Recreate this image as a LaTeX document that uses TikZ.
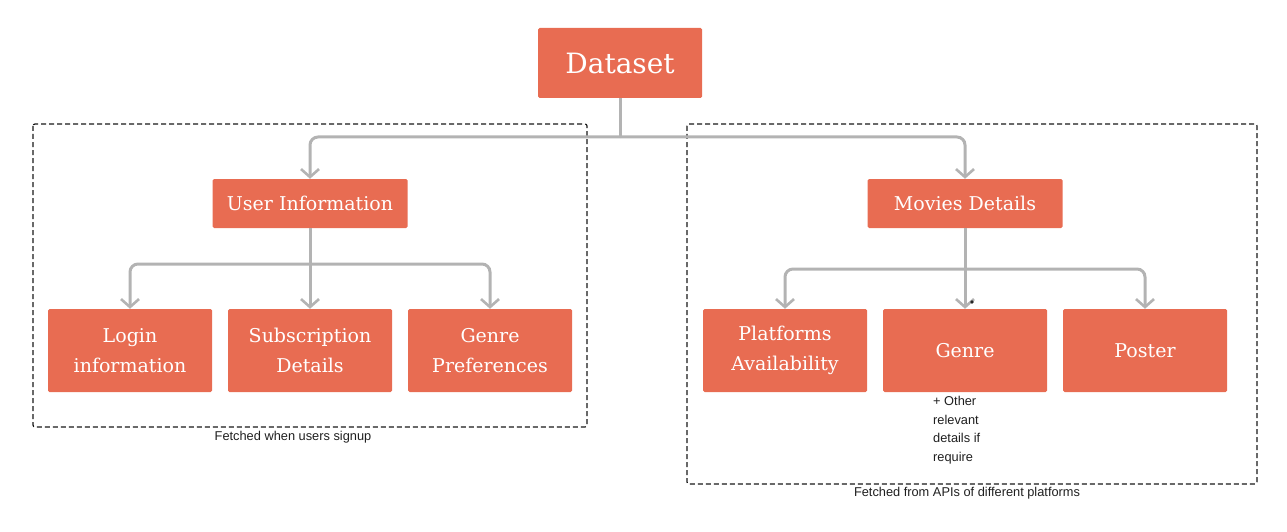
\documentclass[tikz,border=0pt]{standalone}
\usepackage{fontspec}
\setmainfont{DejaVu Serif}
\newfontfamily\lblfont{Liberation Sans}
\usetikzlibrary{arrows.meta}
\definecolor{boxred}{HTML}{E86C52}
\definecolor{conngray}{HTML}{B3B3B3}
\tikzset{
  redbox/.style={draw=none, fill=boxred, rounded corners=1.5pt, text=white, align=center, inner sep=0pt, font=\fontsize{19}{30}\selectfont},
  conn/.style={draw=conngray, line width=3pt, rounded corners=8pt, -{Straight Barb[length=8pt,width=18pt,line width=2.6pt]}},
  connplain/.style={draw=conngray, line width=3pt, rounded corners=8pt},
  group/.style={draw=black!90, line width=1.2pt, dash pattern=on 5pt off 3pt, rounded corners=2pt},
  lbl/.style={font=\lblfont\fontsize{12.8}{15}\selectfont, text=black!88, inner sep=0pt}
}
\begin{document}
\begin{tikzpicture}[x=1pt,y=-1pt]
\useasboundingbox (0,0) rectangle (1287,532);
% groups
\draw[group] (33,124) rectangle (587,427);
\draw[group] (687,124) rectangle (1257,484);
% nodes
\node[redbox, minimum width=164pt, minimum height=70pt, font=\fontsize{28}{32}\selectfont] (ds) at (620,63) {Dataset};
\node[redbox, minimum width=195pt, minimum height=49pt] (ui) at (310,203.5) {User Information};
\node[redbox, minimum width=195pt, minimum height=49pt] (md) at (965,203.5) {Movies Details};
\node[redbox, minimum width=164pt, minimum height=83pt] (login) at (130,350.5) {Login\\information};
\node[redbox, minimum width=164pt, minimum height=83pt] (sub) at (310,350.5) {Subscription\\Details};
\node[redbox, minimum width=164pt, minimum height=83pt] (gp) at (490,350.5) {Genre\\Preferences};
\node[redbox, minimum width=164pt, minimum height=83pt] (pa) at (785,350.5) {Platforms\\Availability};
\node[redbox, minimum width=164pt, minimum height=83pt] (genre) at (965,350.5) {Genre};
\node[redbox, minimum width=164pt, minimum height=83pt] (poster) at (1145,350.5) {Poster};
% junction coordinates
\coordinate (j0) at (620,137);
\coordinate (j1) at (310,264);
\coordinate (j2) at (965,269);
% connectors
\draw[connplain] (ds.south) -- (j0);
\draw[conn] (j0) -| (ui.north);
\draw[conn] (j0) -| (md.north);
\draw[conn] (ui.south) -- (sub.north);
\draw[conn] (j1) -| (login.north);
\draw[conn] (j1) -| (gp.north);
\draw[conn] (md.south) -- (genre.north);
\draw[conn] (j2) -| (pa.north);
\draw[conn] (j2) -| (poster.north);
% dot
\fill[black!85] (972,302) circle (1.8pt);
% labels
\node[lbl, anchor=north west, align=left, font=\lblfont\fontsize{12.8}{18.7}\selectfont] (note) at (933,396) {+ Other\\relevant\\details if\\require};
\node[lbl] (l1) at (293,437) {Fetched when users signup};
\node[lbl] (l2) at (967,493) {Fetched from APIs of different platforms};
\end{tikzpicture}
\end{document}
